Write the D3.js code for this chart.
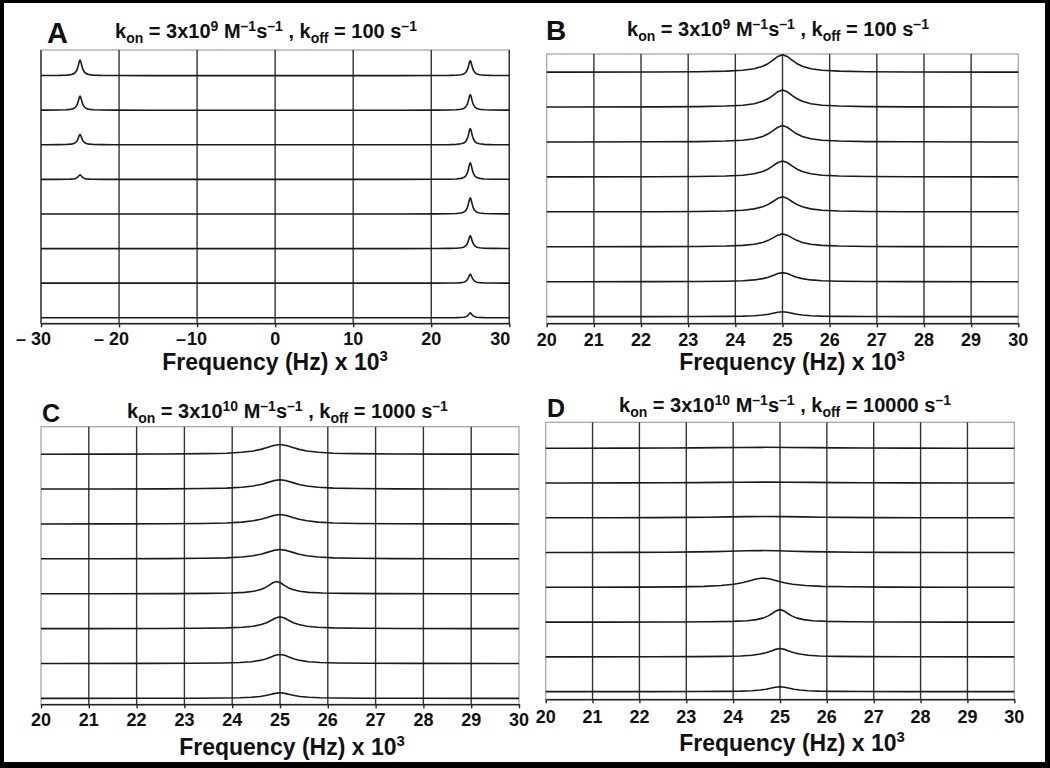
<!DOCTYPE html>
<html>
<head>
<meta charset="utf-8">
<script src="https://cdn.jsdelivr.net/npm/d3@7"></script>
<style>
  body { margin: 0; background: #fff; }
  svg text { font-family: "Liberation Sans", Arial, sans-serif; font-weight: bold; fill: #111; }
</style>
</head>
<body>
<script>
// line shape of one peak
// (offset in half-widths, height relative to the top)
var shapeOffsets = [0, 0.33, 0.67, 1, 1.4, 2, 2.8, 4, 6, 9, 15, 30];
var shapeValues  = [1, 0.9, 0.69, 0.5, 0.34, 0.2, 0.11, 0.06, 0.027, 0.012, 0.004, 0];

// A : full range, two sites at -25 and +25 kHz (rows top to bottom)
var ticksA = [-30, -20, -10, 0, 10, 20, 30];
var tickLabelsA = ["– 30", "– 20", "–10", "0", "10", "20", "30"];
var centersA = [[-25, 25], [-25, 25], [-25, 25], [-25, 25], [25], [25], [25], [25]];
var heightsA = [[0.45, 0.43], [0.41, 0.45], [0.3, 0.47], [0.13, 0.48], [0.47], [0.37], [0.26], [0.14]];
var widthsA  = [[0.3, 0.3], [0.3, 0.3], [0.3, 0.3], [0.3, 0.3], [0.3], [0.3], [0.3], [0.3]];

// B, C, D : zoom on 20 - 30 kHz
var ticksZoom = [20, 21, 22, 23, 24, 25, 26, 27, 28, 29, 30];
var tickLabelsZoom = ["20", "21", "22", "23", "24", "25", "26", "27", "28", "29", "30"];

var centersB = [[25], [25], [25], [25], [25], [25], [25], [25]];
var heightsB = [[0.5], [0.49], [0.47], [0.46], [0.43], [0.37], [0.26], [0.14]];
var widthsB  = [[0.3], [0.3], [0.3], [0.3], [0.3], [0.3], [0.3], [0.3]];

var centersC = [[25], [25], [25], [25], [24.93], [25], [25], [25]];
var heightsC = [[0.28], [0.27], [0.27], [0.27], [0.35], [0.34], [0.26], [0.16]];
var widthsC  = [[0.4], [0.4], [0.4], [0.4], [0.24], [0.28], [0.3], [0.3]];

var centersD = [[24.7], [24.7], [24.7], [24.6], [24.64], [25], [25], [25]];
var heightsD = [[0.03], [0.03], [0.04], [0.06], [0.27], [0.36], [0.24], [0.14]];
var widthsD  = [[1.5], [1.5], [1.2], [1.0], [0.45], [0.25], [0.3], [0.3]];

// panel titles: [text, "" | "sub" | "sup"]
var titleA = [["k", ""], ["on", "sub"], [" = 3x10", ""], ["9", "sup"], [" M", ""], ["–1", "sup"], ["s", ""], ["–1", "sup"],
              [" , k", ""], ["off", "sub"], [" = 100 s", ""], ["–1", "sup"]];
var titleB = titleA;
var titleC = [["k", ""], ["on", "sub"], [" = 3x10", ""], ["10", "sup"], [" M", ""], ["–1", "sup"], ["s", ""], ["–1", "sup"],
              [" , k", ""], ["off", "sub"], [" = 1000 s", ""], ["–1", "sup"]];
var titleD = [["k", ""], ["on", "sub"], [" = 3x10", ""], ["10", "sup"], [" M", ""], ["–1", "sup"], ["s", ""], ["–1", "sup"],
              [" , k", ""], ["off", "sub"], [" = 10000 s", ""], ["–1", "sup"]];

var axisTitle = "Frequency (Hz) x 10";

var svg = d3.select("body").append("svg")
    .attr("width", 1050)
    .attr("height", 768);

svg.append("rect").attr("width", 1050).attr("height", 768).attr("fill", "#fff");

// outer black frame
svg.append("rect").attr("x", 0).attr("y", 0).attr("width", 4).attr("height", 768).attr("fill", "#000");
svg.append("rect").attr("x", 0).attr("y", 0).attr("width", 1050).attr("height", 3).attr("fill", "#000");
svg.append("rect").attr("x", 1045).attr("y", 0).attr("width", 5).attr("height", 768).attr("fill", "#000");
svg.append("rect").attr("x", 0).attr("y", 762).attr("width", 1050).attr("height", 6).attr("fill", "#000");

var line = d3.line();

function spectrum(centers, heights, widths, dom) {
  var pts = [];
  centers.forEach(function(c, k) {
    var j;
    for (j = shapeOffsets.length - 1; j > 0; j--)
      pts.push([c - shapeOffsets[j] * widths[k], heights[k] * shapeValues[j]]);
    for (j = 0; j < shapeOffsets.length; j++)
      pts.push([c + shapeOffsets[j] * widths[k], heights[k] * shapeValues[j]]);
  });
  pts.sort(function(a, b) { return a[0] - b[0]; });
  if (pts[0][0] > dom[0]) pts.unshift([dom[0], 0]);
  if (pts[pts.length - 1][0] < dom[1]) pts.push([dom[1], 0]);
  return pts;
}

function drawPanel(p) {
  var g = svg.append("g");
  var x = d3.scaleLinear().domain([p.ticks[0], p.ticks[p.ticks.length - 1]]).range([p.x0, p.x1]);
  var y = d3.scaleLinear().domain(p.vDomain).range([p.yAxis, p.yTop]);

  // plot area border (light)
  g.append("rect")
    .attr("x", p.x0).attr("y", p.yTop)
    .attr("width", p.x1 - p.x0).attr("height", p.yAxis - p.yTop)
    .attr("fill", "none").attr("stroke", "#a0a0a0").attr("stroke-width", 1.2);

  // vertical grid
  var gridTicks = p.darkEdges ? p.ticks : p.ticks.slice(1, -1);
  g.selectAll(".grid").data(gridTicks).enter().append("line")
    .attr("x1", function(d) { return x(d); }).attr("x2", function(d) { return x(d); })
    .attr("y1", p.yTop).attr("y2", p.yAxis)
    .attr("stroke", "#333").attr("stroke-width", 1.4);

  // x axis
  var ax = g.append("g")
    .attr("transform", "translate(0," + p.yAxis + ")")
    .call(d3.axisBottom(x).tickValues(p.ticks).tickSize(4).tickSizeOuter(0).tickFormat(""));
  ax.select(".domain").attr("stroke", "#222").attr("stroke-width", 1.6);
  ax.selectAll(".tick line").attr("stroke", "#222").attr("stroke-width", 1.4);

  // spectra
  var clipId = "clip" + p.letter;
  svg.append("clipPath").attr("id", clipId).append("rect")
    .attr("x", p.x0).attr("y", p.yTop).attr("width", p.x1 - p.x0).attr("height", p.yAxis - p.yTop);
  var dom = x.domain();
  var sg = g.append("g").attr("clip-path", "url(#" + clipId + ")");
  p.centers.forEach(function(c, i) {
    var off = p.centers.length - 1 - i;
    var pts = spectrum(c, p.heights[i], p.widths[i], dom);
    sg.append("path")
      .attr("d", line(pts.map(function(d) { return [x(d[0]), y(off + d[1])]; })))
      .attr("fill", "none").attr("stroke", "#1a1a1a").attr("stroke-width", 1.6)
      .attr("stroke-linejoin", "round");
  });

  // tick labels: number centred on the tick, minus sign hanging left
  p.tickLabels.forEach(function(lab, i) {
    var m = lab.match(/^(–\s?)?(.*)$/);
    var num = m[2];
    var t = g.append("text")
      .attr("x", x(p.ticks[i])).attr("y", p.tickY)
      .attr("text-anchor", "middle").attr("font-size", 18).text(num);
    var w = t.node().getComputedTextLength();
    if (p.clampRight && x(p.ticks[i]) + w / 2 > p.x1 + 1) t.attr("x", p.x1 + 1 - w / 2);
    if (m[1]) {
      var gap = m[1].length > 1 ? 5 : 1;
      g.append("text")
        .attr("x", x(p.ticks[i]) - w / 2 - gap).attr("y", p.tickY)
        .attr("text-anchor", "end").attr("font-size", 18).text("–");
    }
  });

  // axis title
  var at = g.append("text")
    .attr("x", p.axisTitleX).attr("y", p.axisTitleY)
    .attr("text-anchor", "middle").attr("font-size", 23);
  at.append("tspan").text(axisTitle);
  at.append("tspan").attr("font-size", 15).attr("dy", -9).text("3");

  // panel letter
  g.append("text")
    .attr("x", p.letterX).attr("y", p.letterY)
    .attr("font-size", p.letterSize).text(p.letter);

  // panel title
  var tt = g.append("text").attr("x", p.titleX).attr("y", p.titleY).attr("font-size", 20);
  var shift = 0;
  p.title.forEach(function(part) {
    var target = part[1] === "sub" ? 5 : part[1] === "sup" ? -7 : 0;
    tt.append("tspan")
      .attr("dy", target - shift)
      .attr("font-size", part[1] ? 14 : 20)
      .text(part[0]);
    shift = target;
  });
}

drawPanel({
  letter: "A", ticks: ticksA, tickLabels: tickLabelsA,
  centers: centersA, heights: heightsA, widths: widthsA, title: titleA,
  x0: 41, x1: 509.3, yTop: 50, yAxis: 323.3, vDomain: [-0.16, 7.74],
  darkEdges: true, clampRight: true,
  tickY: 345, axisTitleX: 275, axisTitleY: 370,
  letterX: 47, letterY: 43, letterSize: 29, titleX: 115, titleY: 38
});

drawPanel({
  letter: "B", ticks: ticksZoom, tickLabels: tickLabelsZoom,
  centers: centersB, heights: heightsB, widths: widthsB, title: titleB,
  x0: 546.7, x1: 1018.3, yTop: 54, yAxis: 323.3, vDomain: [-0.19, 7.52],
  tickY: 346, axisTitleX: 792, axisTitleY: 370,
  letterX: 546, letterY: 40, letterSize: 28, titleX: 627, titleY: 36
});

drawPanel({
  letter: "C", ticks: ticksZoom, tickLabels: tickLabelsZoom,
  centers: centersC, heights: heightsC, widths: widthsC, title: titleC,
  x0: 41, x1: 519, yTop: 426.7, yAxis: 704.3, vDomain: [-0.17, 7.79],
  tickY: 726, axisTitleX: 292, axisTitleY: 755,
  letterX: 42, letterY: 422, letterSize: 25, titleX: 127, titleY: 418
});

drawPanel({
  letter: "D", ticks: ticksZoom, tickLabels: tickLabelsZoom,
  centers: centersD, heights: heightsD, widths: widthsD, title: titleD,
  x0: 545.7, x1: 1014.3, yTop: 422.3, yAxis: 699.3, vDomain: [-0.22, 7.75],
  tickY: 723, axisTitleX: 792, axisTitleY: 751,
  letterX: 547, letterY: 417, letterSize: 25, titleX: 619, titleY: 412
});
</script>
</body>
</html>
